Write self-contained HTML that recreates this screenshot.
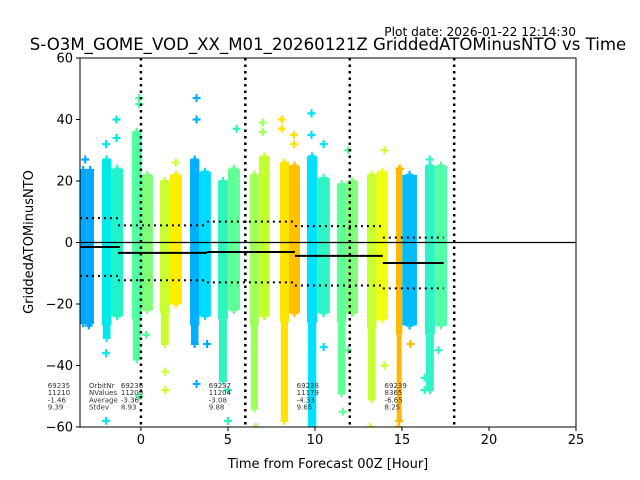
<!DOCTYPE html>
<html><head><meta charset="utf-8"><style>
body{margin:0;background:#fff}
svg{display:block;font-family:"DejaVu Sans","Liberation Sans",sans-serif}
</style></head><body>
<svg id="chart" width="640" height="480" xmlns="http://www.w3.org/2000/svg">
<text x="576" y="36" font-size="12.2" text-anchor="end">Plot date: 2026-01-22 12:14:30</text>
<text x="328" y="50" font-size="16.6" text-anchor="middle">S-O3M_GOME_VOD_XX_M01_20260121Z GriddedATOMinusNTO vs Time</text>
<text x="328" y="468" font-size="13" text-anchor="middle">Time from Forecast 00Z [Hour]</text>
<text transform="translate(33,242) rotate(-90)" font-size="13" text-anchor="middle">GriddedATOMinusNTO</text>
<g id="plot"></g>
</svg>
<script>
const bandStart=[-3.5,-2.24,-0.52,1.09,2.82,4.43,6.26,7.99,9.54,11.26,12.99,14.66,16.32];
const bandEnd=[-2.7,-1.03,0.69,2.36,4.02,5.69,7.41,9.14,10.86,12.47,14.2,15.86,17.59];
const leftColor=["#00a8ff","#00e8e8","#50ffa0","#c8ff30","#00b0ff","#30f4c0","#a0ff58","#ffe400","#00e0ff","#60ff98","#c8ff30","#ffb800","#30f4c8"];
const rightColor=["#00a8ff","#20f4c8","#80ff78","#ffee00","#00dcff","#60ff98","#c4ff30","#ffc000","#30f4c8","#80ff78","#f0ff10","#00bcff","#50ffa8"];
const leftHi=[23.6,27,36,20,27,20,22,26,28,19,22,24,25];
const leftLo=[-26.2,-31,-38,-33,-33,-45,-54,-58,-60,-49,-51,-58,-48];
const rightHi=[23.6,24,22,22,23,24,28,25,21,20,23,22,25];
const rightLo=[-26.2,-24,-22,-20,-24,-22,-24,-23,-23,-23,-25,-27,-27];
const outlierHour=[-3.2,-3.0,-2.0,-1.4,-1.4,-2.0,-2.0,-0.1,-0.1,-0.1,0.3,1.4,1.4,2.0,3.2,3.2,3.2,3.8,5.5,5.0,5.0,7.0,7.0,6.6,8.1,8.1,8.8,8.8,9.8,9.8,10.5,10.5,11.9,11.6,11.9,13.2,14.0,14.0,14.9,15.5,14.8,16.6,16.3,16.3,17.1];
const outlierValue=[27,-27,32,40,34,-36,-58,47,45,-50,-30,-42,-48,26,47,40,-46,-33,37,-58,-48,39,36,-60,40,37,35,32,42,35,-34,32,30,-55,-35,-60,30,-40,24,-33,-60,27,-44,-48,-35];
const outlierBand=[0,0,1,1,1,1,1,2,2,2,2,3,3,3,4,4,4,4,5,5,5,6,6,6,7,7,7,7,8,8,8,8,9,9,9,10,10,10,11,11,11,12,12,12,12];
const segStart=[-3.5,-1.32,3.79,8.85,13.9];
const segEnd=[-1.2,3.79,8.85,13.9,17.4];
const orbitNr=["69235","69236","69237","69238","69239"];
const nValues=["11210","11209","11204","11179","8365"];
const avgValues=[-1.46,-3.36,-3.08,-4.33,-6.65];
const stdValues=[9.39,8.93,9.88,9.65,8.25];
const statHour=[-5.35,-1.15,3.9,8.95,14.0];
const xTicks=[0,5,10,15,20,25];
const yTicks=[60,40,20,0,-20,-40,-60];
const vLines=[0,6,12,18];

const L=80,R=576,T=58,B=427,xmin=-3.5,xmax=25,ymin=-60,ymax=60;
const X=h=>L+(h-xmin)/(xmax-xmin)*(R-L);
const Y=v=>B-(v-ymin)/(ymax-ymin)*(B-T);
const NS="http://www.w3.org/2000/svg";
const g=document.getElementById('plot');
function mk(t,a,p){const e=document.createElementNS(NS,t);for(const k in a)e.setAttribute(k,a[k]);(p||g).appendChild(e);return e;}
const clip=mk('clipPath',{id:'cp'});mk('rect',{x:L,y:T,width:R-L,height:B-T},clip);
const data=mk('g',{'clip-path':'url(#cp)'});


function plus(cx,cy,c,p){const e=mk('path',{d:`M${cx-4},${cy}h8M${cx},${cy-4}v8`,stroke:c,'stroke-width':2.2,fill:'none'},p);return e;}
for(let i=0;i<bandStart.length;i++){
  const x0=X(bandStart[i]),x1=X(bandEnd[i]);const w=x1-x0;const split=i===11?x0+w*0.3:x0+w*0.45;
  const grp=mk('g',{},data);
  
  
  const coreLo=Math.max(leftLo[i],rightLo[i]-3);
  mk('rect',{x:x0,y:Y(leftHi[i]),width:split-x0,height:Y(coreLo)-Y(leftHi[i]),fill:leftColor[i]},grp);
  const tw=(split-x0)*0.8,tx=x0+(split-x0-tw)/2;
  mk('rect',{x:tx,y:Y(coreLo),width:tw,height:Y(leftLo[i])-Y(coreLo),fill:leftColor[i]},grp);
  mk('rect',{x:split,y:Y(rightHi[i]),width:x1-split,height:Y(rightLo[i])-Y(rightHi[i]),fill:rightColor[i]},grp);
  plus((x0+split)/2,Y(leftHi[i]),leftColor[i],grp);plus((x0+split)/2,Y(leftLo[i]),leftColor[i],grp);
  plus((split+x1)/2,Y(rightHi[i]),rightColor[i],grp);plus((split+x1)/2,Y(rightLo[i]),rightColor[i],grp);
}
for(let k=0;k<outlierHour.length;k++){
  const e=plus(X(outlierHour[k]),Y(outlierValue[k]),leftColor[outlierBand[k]],data);
  
  
}
const zl=mk('line',{x1:L,x2:R,y1:Y(0),y2:Y(0),stroke:'#000','stroke-width':1.2});


for(const h of vLines){const e=mk('line',{x1:X(h),x2:X(h),y1:T,y2:B,stroke:'#000','stroke-width':2.5,'stroke-dasharray':'2.5,4'});
  
  }
for(let s=0;s<segStart.length;s++){
  const a=X(segStart[s]),b=X(segEnd[s]);
  const m=mk('line',{x1:a,x2:b,y1:Y(avgValues[s]),y2:Y(avgValues[s]),stroke:'#000','stroke-width':2});
  
  
  for(const sg of [1,-1]){const d=mk('line',{x1:a,x2:b,y1:Y(avgValues[s]+sg*stdValues[s]),y2:Y(avgValues[s]+sg*stdValues[s]),stroke:'#000','stroke-width':2,'stroke-dasharray':'2,4'});
    
    }
  const tg=mk('g',{'font-size':7,fill:'#333'});
  
  
  const vals=[orbitNr[s],nValues[s],avgValues[s].toFixed(2),stdValues[s].toFixed(2)];
  vals.forEach((v,j)=>{const t=mk('text',{x:X(statHour[s]),y:388+j*7.2},tg);t.textContent=v;});
}
const lab=mk('g',{'font-size':7,fill:'#333'});


["OrbitNr","NValues","Average","Stdev"].forEach((v,j)=>{const t=mk('text',{x:89,y:388+j*7.2},lab);t.textContent=v;});
const fr=mk('rect',{x:L,y:T,width:R-L,height:B-T,fill:'none',stroke:'#000','stroke-width':1});


for(const t of xTicks){mk('line',{x1:X(t),x2:X(t),y1:B,y2:B+4,stroke:'#000'});
  const e=mk('text',{x:X(t),y:B+17,'font-size':13,'text-anchor':'middle'});e.textContent=t;
  
  }
for(const t of yTicks){mk('line',{x1:L-4,x2:L,y1:Y(t),y2:Y(t),stroke:'#000'});
  const e=mk('text',{x:L-7,y:Y(t)+4.5,'font-size':13,'text-anchor':'end'});e.textContent=String(t).replace('-','\u2212');
  
  }
</script>
</body></html>
